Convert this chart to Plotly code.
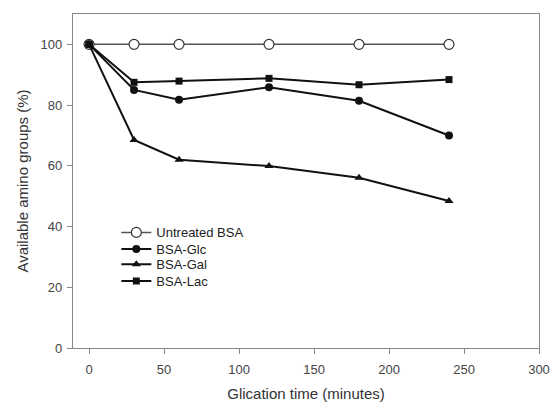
import plotly.graph_objects as go

time_min = [0, 30, 60, 120, 180, 240]
untreated = [100, 100, 100, 100, 100, 100]
bsa_glc = [100, 85.0, 81.8, 85.9, 81.4, 70.0]
bsa_gal = [100, 68.5, 62.0, 59.9, 56.1, 48.4]
bsa_lac = [100, 87.5, 87.9, 88.8, 86.7, 88.4]

series_names = ["Untreated BSA", "BSA-Glc", "BSA-Gal", "BSA-Lac"]
series_values = [untreated, bsa_glc, bsa_gal, bsa_lac]
series_symbols = ["circle-open", "circle", "triangle-up", "square"]
legend_ids = ["legend", "legend2", "legend3", "legend4"]
legend_rows = [0.346, 0.296, 0.2505, 0.2005]

fig = go.Figure()
for name, vals, sym, lg in zip(series_names, series_values, series_symbols, legend_ids):
    if sym == "circle-open":
        marker = dict(symbol="circle", size=10, color="white", line=dict(color="#333333", width=1.2))
        line = dict(color="#555555", width=1.5)
    else:
        marker = dict(symbol=sym, size=8 if sym != "square" else 7, color="#111111", line=dict(width=0))
        line = dict(color="#111111", width=2)
    fig.add_trace(go.Scatter(x=time_min, y=vals, mode="lines+markers", name=name,
                             line=line, marker=marker, legend=lg))

axis_common = dict(showline=True, linecolor="#888888", linewidth=1.2, mirror=True,
                   showgrid=False, zeroline=False, ticks="outside", ticklen=5,
                   tickcolor="#888888", automargin=False,
                   tickfont=dict(family="Liberation Sans, Arial", size=13, color="#444444"))
legend_style = dict(xanchor="left", yanchor="middle", bgcolor="rgba(0,0,0,0)",
                    font=dict(family="Liberation Sans, Arial", size=13, color="#222222"),
                    itemwidth=30, x=0.093)
layout_legends = {lg: dict(y=yv, **legend_style) for lg, yv in zip(legend_ids, legend_rows)}

fig.update_layout(
    width=551, height=404,
    margin=dict(l=73, r=12, t=14, b=56),
    paper_bgcolor="white", plot_bgcolor="white",
    font=dict(family="Liberation Sans, Arial", color="#333333"),
    xaxis=dict(range=[-10.7, 300], tickvals=[0, 50, 100, 150, 200, 250, 300],
               ticklabelstandoff=4,
               title=dict(text="Glication time (minutes)", font=dict(size=15, color="#333333"), standoff=12),
               **axis_common),
    yaxis=dict(range=[0, 110], tickvals=[0, 20, 40, 60, 80, 100],
               ticklabelstandoff=2,
               title=dict(text="Available amino groups (%)", font=dict(size=15, color="#333333"), standoff=8),
               **axis_common),
    showlegend=True,
    **layout_legends,
)
fig.write_html("out.html", config={"displayModeBar": False},
               post_script="document.body.style.margin='0';document.body.style.padding='0';"
                           "document.body.style.overflow='hidden';")
